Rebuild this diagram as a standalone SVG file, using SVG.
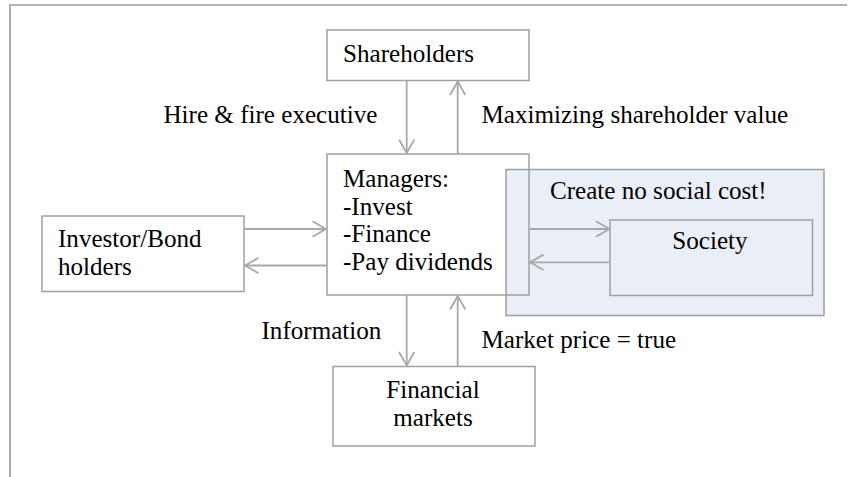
<svg xmlns="http://www.w3.org/2000/svg" width="856" height="477" viewBox="0 0 856 477">
  <defs>
    <style>
      .box { fill: #ffffff; stroke: #a0a0a0; stroke-width: 1.5; }
      .frame { fill: none; stroke: #9a9a9a; stroke-width: 1.6; }
      .edge { fill: none; stroke: #a8a8a8; stroke-width: 1.8; marker-end: url(#chev); }
      text { font-family: "Liberation Serif", "Times New Roman", serif; font-size: 25.1px; fill: #000000; }
      .mid { text-anchor: middle; }
    </style>
    <marker id="chev" viewBox="-16 -10 18 20" refX="0" refY="0" markerWidth="18" markerHeight="20" markerUnits="userSpaceOnUse" orient="auto">
      <path d="M-13.5,-7.7 L0,0 L-13.5,7.7" fill="none" stroke="#a8a8a8" stroke-width="1.8"/>
    </marker>
  </defs>

  <!-- page frame -->
  <path class="frame" d="M10,477 V5 H847"/>

  <!-- managers box body (outline redrawn above the overlay) -->
  <rect x="327" y="154" width="202" height="141" fill="#ffffff"/>

  <!-- social-cost zone -->
  <g id="social-zone">
    <rect x="506" y="169.5" width="318" height="146" fill="#eaeef7" stroke="#a0a0a0" stroke-width="1.5"/>
    <text x="550" y="199">Create no social cost!</text>
  </g>

  <g id="shareholders">
    <rect class="box" x="327" y="30" width="202" height="50.5"/>
    <text x="343" y="62">Shareholders</text>
  </g>

  <g id="managers">
    <rect x="327" y="154" width="202" height="141" fill="none" stroke="#a0a0a0" stroke-width="1.5"/>
    <text x="343" y="187">Managers:</text>
    <text x="343" y="214.5">-Invest</text>
    <text x="343" y="242">-Finance</text>
    <text x="343" y="270">-Pay dividends</text>
  </g>

  <g id="investors">
    <rect class="box" x="42" y="216" width="202" height="75.5"/>
    <text x="58" y="247">Investor/Bond</text>
    <text x="58" y="275">holders</text>
  </g>

  <g id="society">
    <rect x="610" y="220" width="202.5" height="75.5" fill="none" stroke="#a0a0a0" stroke-width="1.5"/>
    <text class="mid" x="710" y="249">Society</text>
  </g>

  <g id="financial-markets">
    <rect class="box" x="333" y="366.5" width="202" height="79.5"/>
    <text class="mid" x="433" y="397.5">Financial</text>
    <text class="mid" x="433" y="426">markets</text>
  </g>

  <!-- connectors -->
  <g id="connectors">
    <line class="edge" x1="406.7" y1="80.5" x2="406.7" y2="153"/>
    <line class="edge" x1="457.7" y1="154" x2="457.7" y2="81.5"/>
    <line class="edge" x1="244" y1="229" x2="326" y2="229"/>
    <line class="edge" x1="327" y1="265.5" x2="245" y2="265.5"/>
    <line class="edge" x1="529" y1="229" x2="609.5" y2="229"/>
    <line class="edge" x1="610" y1="262.3" x2="530" y2="262.3"/>
    <line class="edge" x1="406.7" y1="295" x2="406.7" y2="365.5"/>
    <line class="edge" x1="457.7" y1="366.5" x2="457.7" y2="296"/>
  </g>

  <!-- connector labels -->
  <g id="labels">
    <text x="163.5" y="123.3">Hire &amp; fire executive</text>
    <text x="481.5" y="123.3">Maximizing shareholder value</text>
    <text x="261.5" y="339">Information</text>
    <text x="481.5" y="348.3">Market price = true</text>
  </g>
</svg>
